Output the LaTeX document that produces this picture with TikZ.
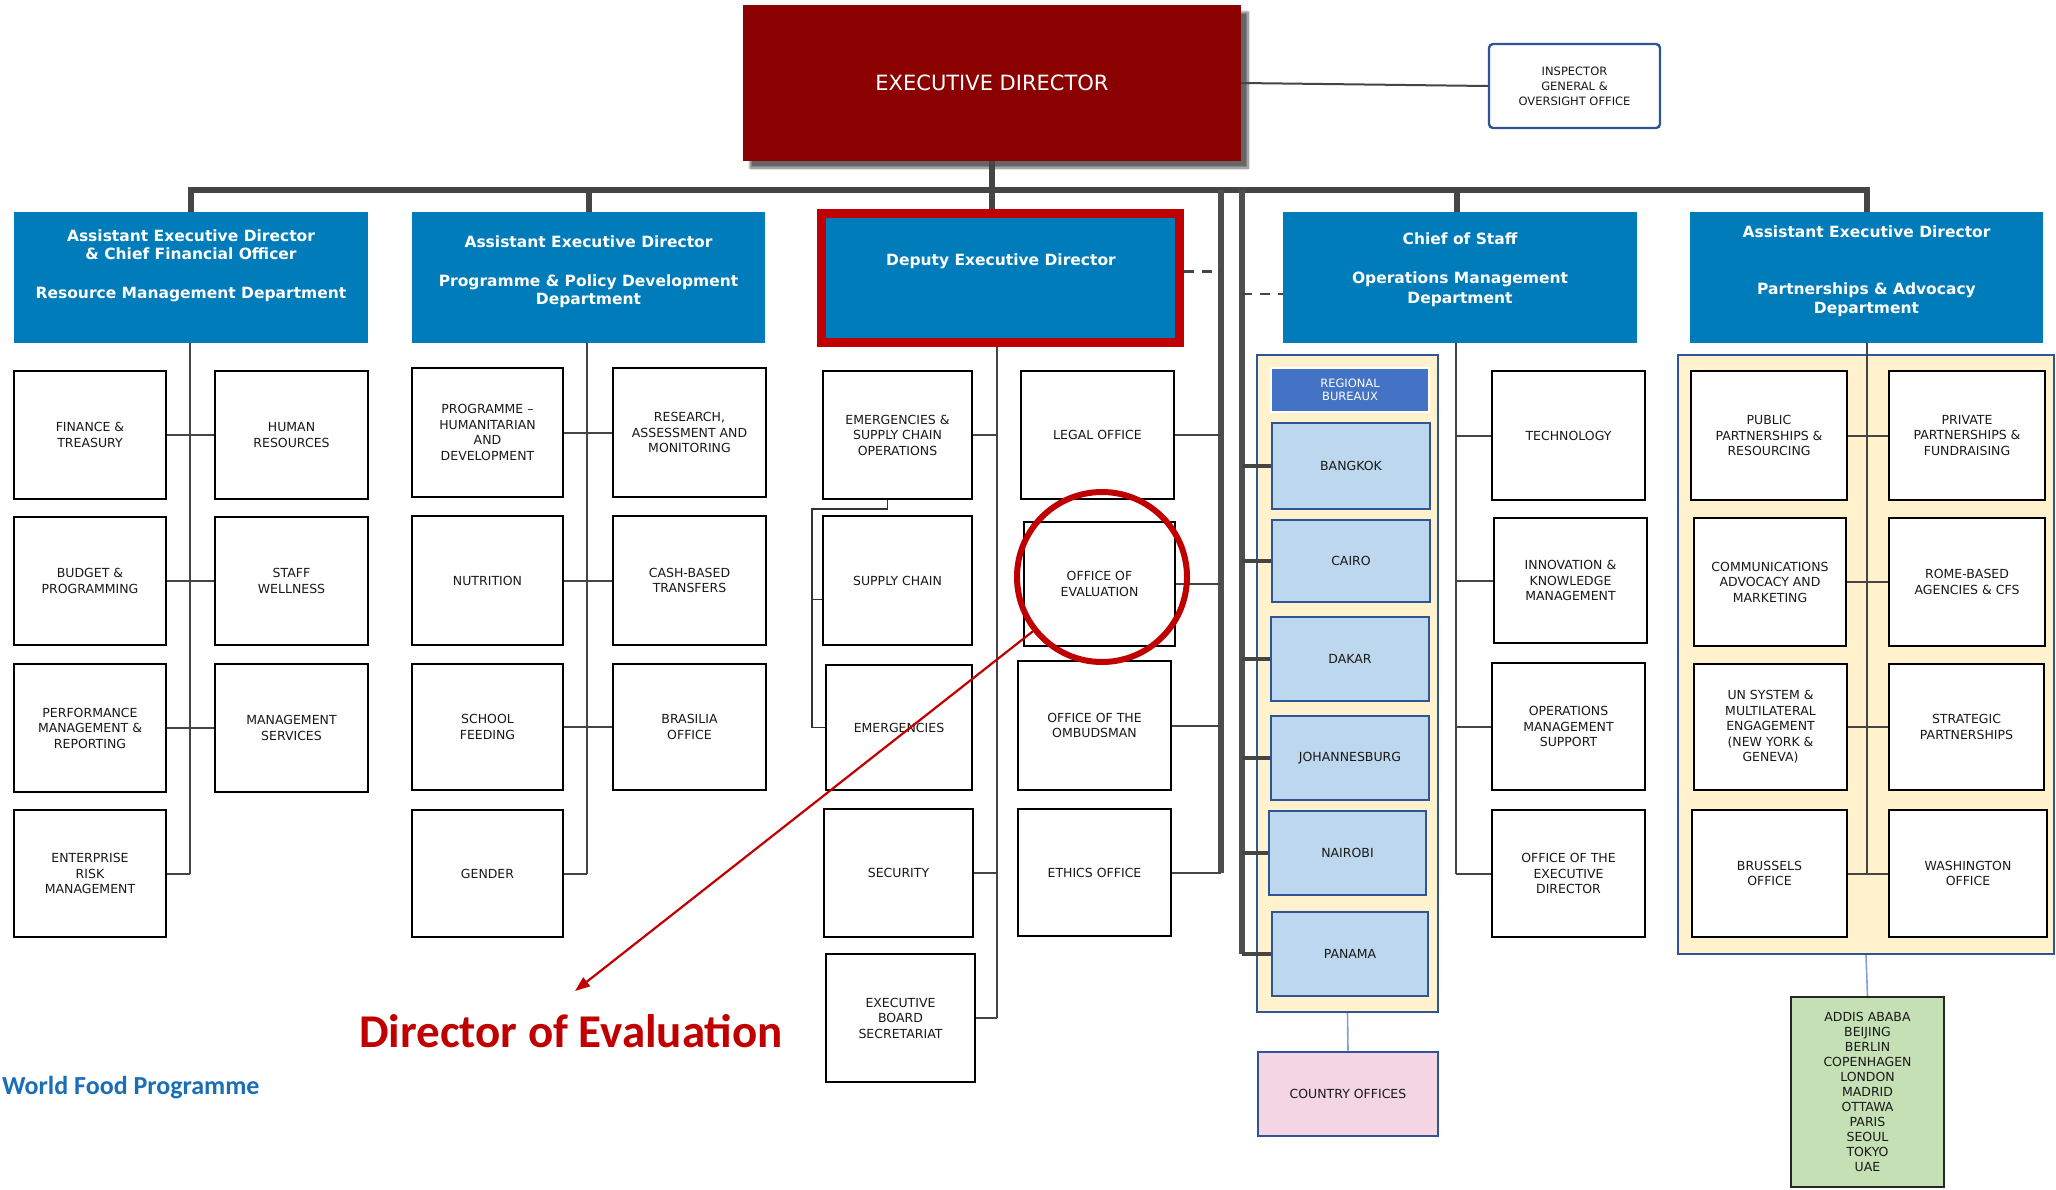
\documentclass[tikz,border=0pt]{standalone}
\usepackage{fontspec}
\setmainfont{DejaVu Sans}
\newfontfamily\boxfont{DejaVu Sans}
\newfontfamily\calfont{Carlito}
\usetikzlibrary{arrows.meta,shadows.blur}
\definecolor{wfpblue}{HTML}{007CBA}
\definecolor{edred}{HTML}{8B0000}
\definecolor{depred}{HTML}{C00000}
\definecolor{lgray}{HTML}{454545}
\definecolor{cream}{HTML}{FFF2CC}
\definecolor{panelblue}{HTML}{2F5597}
\definecolor{rbblue}{HTML}{BDD7EE}
\definecolor{rbhead}{HTML}{4472C4}
\definecolor{copink}{HTML}{F3D5E3}
\definecolor{grn}{HTML}{C5E0B4}
\definecolor{thinblue}{HTML}{7F9FD8}
\definecolor{wfptext}{HTML}{1A6EB5}
\tikzset{
  sbox/.style={draw=black, line width=2.4pt, fill=white, align=center, text=black!90,
    font=\boxfont\fontsize{12.5}{15.5}\selectfont, inner sep=1pt},
  hdrbox/.style={fill=wfpblue, draw=none, inner sep=0pt},
  depbox/.style={fill=wfpblue, draw=depred, line width=9pt, inner sep=0pt},
  htxt/.style={text=white, font=\boxfont\bfseries\fontsize{15.5}{18}\selectfont, anchor=base, inner sep=0pt},
  panelbox/.style={fill=cream, draw=panelblue, line width=2.2pt, inner sep=0pt},
  rbbox/.style={sbox, fill=rbblue, draw=panelblue, line width=2.8pt},
  rbhbox/.style={sbox, fill=rbhead, draw=white, line width=2pt, text=white,
    font=\boxfont\fontsize{11.5}{13}\selectfont},
  cobox/.style={sbox, fill=copink, draw=panelblue, line width=2.8pt},
  grbox/.style={sbox, fill=grn, draw=black!85, line width=2.4pt, font=\boxfont\fontsize{12.5}{15}\selectfont},
  edbox/.style={fill=edred, draw=none, text=white, font=\boxfont\fontsize{21}{24}\selectfont,
    blur shadow={shadow xshift=7pt, shadow yshift=-7pt, shadow blur steps=10, shadow opacity=60}},
  igbox/.style={sbox, draw=panelblue, line width=2.4pt, rounded corners=4pt,
    font=\boxfont\fontsize{11.5}{15}\selectfont},
  conn/.style={draw=lgray, line width=2pt},
  bus/.style={draw=lgray, line width=6pt, line join=miter},
  thickline/.style={draw=lgray!95, line width=6pt},
  rbconn/.style={draw=lgray, line width=4pt},
  dashconn/.style={draw=lgray, line width=2.6pt, dash pattern=on 10pt off 8pt},
  thinconn/.style={draw=black!80, line width=1.4pt},
  blueconn/.style={draw=thinblue, line width=1.6pt},
}
\newcommand\bx[7][sbox]{\node[#1, minimum width={(#5-#3)*1pt}, minimum height={(#6-#4)*1pt}] (#2) at ({(#3+#5)/2},{(#4+#6)/2}) {#7};}
\begin{document}
\begin{tikzpicture}[x=1pt,y=-1pt]
\useasboundingbox (0,0) rectangle (2056,1189);
% ---------- panels ----------
\bx[panelbox]{rbp}{1257}{355}{1438}{1012}{}
\bx[panelbox]{pap}{1678}{355}{2054}{954}{}
% ---------- top ----------
\bx[edbox]{ed}{743}{5}{1241}{161}{EXECUTIVE DIRECTOR}
\bx[igbox]{ig}{1489}{44}{1660}{128}{INSPECTOR\\GENERAL \&\\OVERSIGHT OFFICE}
% ---------- headers ----------
\bx[hdrbox]{rm}{14}{212}{368}{343}{}
\bx[hdrbox]{ppd}{412}{212}{765}{343}{}
\bx[depbox]{dep}{821.5}{213.5}{1179.5}{342}{}
\bx[hdrbox]{cos}{1283}{212}{1637}{343}{}
\bx[hdrbox]{pa}{1690}{212}{2043}{343}{}
\node[htxt] (rm1) at (191,241.5) {Assistant Executive Director};
\node[htxt] (rm2) at (191,259.5) {\& Chief Financial Officer};
\node[htxt] (rm3) at (191,298.5) {Resource Management Department};
\node[htxt] (pp1) at (588.5,247.5) {Assistant Executive Director};
\node[htxt] (pp2) at (588.5,286.5) {Programme \& Policy Development};
\node[htxt] (pp3) at (588.5,304.5) {Department};
\node[htxt] (de1) at (1001,265.5) {Deputy Executive Director};
\node[htxt] (co1) at (1460,244.5) {Chief of Staff};
\node[htxt] (co2) at (1460,283.5) {Operations Management};
\node[htxt] (co3) at (1460,303.5) {Department};
\node[htxt] (pa1) at (1866.5,237.5) {Assistant Executive Director};
\node[htxt] (pa2) at (1866.5,294.5) {Partnerships \& Advocacy};
\node[htxt] (pa3) at (1866.5,313.5) {Department};
% ---------- RM ----------
\bx{fin}{14}{371}{166}{499}{FINANCE \&\\TREASURY}
\bx{hr}{215}{371}{368}{499}{HUMAN\\RESOURCES}
\bx{bud}{14}{517}{166}{645}{BUDGET \&\\PROGRAMMING}
\bx{sw}{215}{517}{368}{645}{STAFF\\WELLNESS}
\bx{perf}{14}{664}{166}{792}{PERFORMANCE\\MANAGEMENT \&\\REPORTING}
\bx{ms}{215}{664}{368}{792}{MANAGEMENT\\SERVICES}
\bx{erm}{14}{810}{166}{937}{ENTERPRISE\\RISK\\MANAGEMENT}
% ---------- PPD ----------
\bx{phd}{412}{368}{563}{497}{PROGRAMME –\\HUMANITARIAN\\AND\\DEVELOPMENT}
\bx{ram}{613}{368}{766}{497}{RESEARCH,\\ASSESSMENT AND\\MONITORING}
\bx{nut}{412}{516}{563}{645}{NUTRITION}
\bx{cbt}{613}{516}{766}{645}{CASH-BASED\\TRANSFERS}
\bx{sf}{412}{664}{563}{790}{SCHOOL\\FEEDING}
\bx{bra}{613}{664}{766}{790}{BRASILIA\\OFFICE}
\bx{gen}{412}{810}{563}{937}{GENDER}
% ---------- Deputy ----------
\bx{esc}{823}{371}{972}{499}{EMERGENCIES \&\\SUPPLY CHAIN\\OPERATIONS}
\bx{sc}{823}{516}{972}{645}{SUPPLY CHAIN}
\bx{em}{826}{665}{972}{790}{EMERGENCIES}
\bx{sec}{824}{809}{973}{937}{SECURITY}
\bx{ebs}{826}{954}{975}{1082}{EXECUTIVE\\BOARD\\SECRETARIAT}
\bx{legal}{1021}{371}{1174}{499}{LEGAL OFFICE}
\bx{oev}{1024}{522}{1175}{646}{OFFICE OF\\EVALUATION}
\bx{omb}{1018}{661}{1171}{790}{OFFICE OF THE\\OMBUDSMAN}
\bx{eth}{1018}{809}{1171}{936}{ETHICS OFFICE}
% ---------- Regional bureaux ----------
\bx[rbhbox]{rbh}{1271}{368}{1429}{412}{REGIONAL\\BUREAUX}
\bx[rbbox]{bkk}{1272}{423}{1430}{509}{BANGKOK}
\bx[rbbox]{cai}{1272}{520}{1430}{602}{CAIRO}
\bx[rbbox]{dak}{1271}{617}{1429}{701}{DAKAR}
\bx[rbbox]{joh}{1271}{716}{1429}{800}{JOHANNESBURG}
\bx[rbbox]{nai}{1269}{811}{1426}{895}{NAIROBI}
\bx[rbbox]{pan}{1272}{912}{1428}{996}{PANAMA}
\bx[cobox]{cof}{1258}{1052}{1438}{1136}{COUNTRY OFFICES}
% ---------- Chief of staff ----------
\bx{tech}{1492}{371}{1645}{500}{TECHNOLOGY}
\bx{ikm}{1494}{518}{1647}{643}{INNOVATION \&\\KNOWLEDGE\\MANAGEMENT}
\bx{oms}{1492}{663}{1645}{790}{OPERATIONS\\MANAGEMENT\\SUPPORT}
\bx{oed}{1492}{810}{1645}{937}{OFFICE OF THE\\EXECUTIVE\\DIRECTOR}
% ---------- Partnerships ----------
\bx{pub}{1691}{371}{1847}{500}{PUBLIC\\PARTNERSHIPS \&\\RESOURCING}
\bx{priv}{1889}{371}{2045}{500}{PRIVATE\\PARTNERSHIPS \&\\FUNDRAISING}
\bx{comm}{1694}{518}{1846}{646}{COMMUNICATIONS\\ADVOCACY AND\\MARKETING}
\bx{rome}{1889}{518}{2045}{646}{ROME-BASED\\AGENCIES \& CFS}
\bx{un}{1694}{664}{1847}{790}{UN SYSTEM \&\\MULTILATERAL\\ENGAGEMENT\\(NEW YORK \&\\GENEVA)}
\bx{strat}{1889}{664}{2044}{790}{STRATEGIC\\PARTNERSHIPS}
\bx{bru}{1692}{810}{1847}{937}{BRUSSELS\\OFFICE}
\bx{wash}{1889}{810}{2047}{937}{WASHINGTON\\OFFICE}
\bx[grbox]{grn}{1791}{997}{1944}{1187}{ADDIS ABABA\\BEIJING\\BERLIN\\COPENHAGEN\\LONDON\\MADRID\\OTTAWA\\PARIS\\SEOUL\\TOKYO\\UAE}
% ---------- coordinates ----------
\coordinate (busy) at (0,190);
\coordinate (t1) at (1221,190);
\coordinate (t2) at (1242,190);
\coordinate (brL) at (812,509);
\coordinate (rmt) at ([xshift=-1pt]rm.south);
\coordinate (ppt) at ([xshift=-1.5pt]ppd.south);
\coordinate (dept) at ([xshift=-3.5pt]dep.south);
\coordinate (cost) at ([xshift=-4pt]cos.south);
\coordinate (cosn) at ([xshift=-3pt]cos.north);
\coordinate (dash1) at ([yshift=6.5pt]dep.east);
\coordinate (dash2) at ([yshift=-16.5pt]cos.west);
\coordinate (escb) at ([xshift=-10pt]esc.south);
\coordinate (sctick) at ([yshift=-19pt]sc.west);
% ---------- connectors ----------
\draw[conn] (ed.east) -- (ig.west);
\draw[bus] (rm.north) -- (rm.north |- busy) -- (pa.north |- busy) -- (pa.north);
\draw[bus] (ppd.north |- busy) -- (ppd.north);
\draw[bus] (ed.south) -- (ed.south |- dep.north);
\draw[bus] (cosn |- busy) -- (cosn);
\draw[thickline] (t1) -- (t1 |- eth.east);
\draw[thickline] (t2) -- (t2 |- pan.west);
\draw[dashconn] (dash1) -- (dash1 -| t1);
\draw[dashconn] (dash2 -| t2) -- (dash2);
% RM
\draw[conn] (rmt) -- (rmt |- erm.east);
\draw[conn] (fin.east) -- (hr.west);
\draw[conn] (bud.east) -- (sw.west);
\draw[conn] (perf.east) -- (ms.west);
\draw[conn] (erm.east) -- (erm.east -| rmt);
% PPD
\draw[conn] (ppt) -- (ppt |- gen.east);
\draw[conn] (phd.east) -- (ram.west);
\draw[conn] (nut.east) -- (cbt.west);
\draw[conn] (sf.east) -- (bra.west);
\draw[conn] (gen.east) -- (gen.east -| ppt);
% Deputy
\draw[conn] (dept) -- (dept |- ebs.east);
\draw[conn] (esc.east) -- (esc.east -| dept);
\draw[conn] (sec.east) -- (sec.east -| dept);
\draw[conn] (ebs.east) -- (ebs.east -| dept);
\draw[thinconn] (escb) |- (brL) |- (em.west);
\draw[thinconn] (sctick) -- (sctick -| brL);
\draw[conn] (legal.east) -- (legal.east -| t1);
\draw[conn] (oev.east) -- (oev.east -| t1);
\draw[conn] (omb.east) -- (omb.east -| t1);
\draw[conn] (eth.east) -- (eth.east -| t1);
% Regional bureaux
\draw[rbconn] (bkk.west -| t2) -- (bkk.west);
\draw[rbconn] (cai.west -| t2) -- (cai.west);
\draw[rbconn] (dak.west -| t2) -- (dak.west);
\draw[rbconn] (joh.west -| t2) -- (joh.west);
\draw[rbconn] (nai.west -| t2) -- (nai.west);
\draw[rbconn] (pan.west -| t2) -- (pan.west);
\draw[blueconn] (rbp.south) -- (cof.north);
% Chief of staff
\draw[conn] (cost) -- (cost |- oed.west);
\draw[conn] (tech.west) -- (tech.west -| cost);
\draw[conn] (ikm.west) -- (ikm.west -| cost);
\draw[conn] (oms.west) -- (oms.west -| cost);
\draw[conn] (oed.west) -- (oed.west -| cost);
% Partnerships
\draw[conn] (pa.south) -- (pa.south |- bru.east);
\draw[conn] (pub.east) -- (priv.west);
\draw[conn] (comm.east) -- (rome.west);
\draw[conn] (un.east) -- (strat.west);
\draw[conn] (bru.east) -- (wash.west);
\draw[blueconn] (pap.south) -- (grn.north);
% ---------- highlight ----------
\node[circle, draw=depred, line width=6pt, minimum size=170pt, inner sep=0pt] (circ) at (1102,577) {};
\coordinate (atip) at (575,991);
\draw[draw=depred, line width=2.2pt, -{Triangle[length=15pt,width=11pt]}] (circ) -- (atip);
\node[anchor=base, inner sep=0pt, text=depred, font=\calfont\bfseries\fontsize{47}{50}\selectfont] (doe) at (571,1047) {Director of Evaluation};
\node[anchor=base west, inner sep=0pt, text=wfptext, font=\calfont\bfseries\fontsize{26}{30}\selectfont] (wfp) at (2,1094) {World Food Programme};
\end{tikzpicture}
\end{document}
